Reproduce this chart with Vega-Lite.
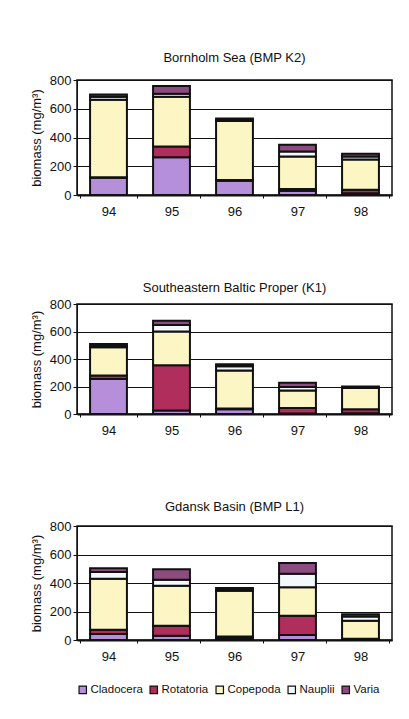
{
  "$schema": "https://vega.github.io/schema/vega-lite/v6.json",
  "background": "white",
  "padding": {"left": 29, "top": 51, "right": 10, "bottom": 10},
  "autosize": {"type": "pad"},
  "datasets": {
    "zoo": [
      {"panel": "K2", "year": "94", "taxon": "Cladocera", "ord": 1, "value": 120},
      {"panel": "K2", "year": "94", "taxon": "Rotatoria", "ord": 2, "value": 3},
      {"panel": "K2", "year": "94", "taxon": "Copepoda", "ord": 3, "value": 540},
      {"panel": "K2", "year": "94", "taxon": "Nauplii", "ord": 4, "value": 20},
      {"panel": "K2", "year": "94", "taxon": "Varia", "ord": 5, "value": 17},
      {"panel": "K2", "year": "95", "taxon": "Cladocera", "ord": 1, "value": 263},
      {"panel": "K2", "year": "95", "taxon": "Rotatoria", "ord": 2, "value": 75},
      {"panel": "K2", "year": "95", "taxon": "Copepoda", "ord": 3, "value": 345},
      {"panel": "K2", "year": "95", "taxon": "Nauplii", "ord": 4, "value": 21},
      {"panel": "K2", "year": "95", "taxon": "Varia", "ord": 5, "value": 54},
      {"panel": "K2", "year": "96", "taxon": "Cladocera", "ord": 1, "value": 100},
      {"panel": "K2", "year": "96", "taxon": "Rotatoria", "ord": 2, "value": 5},
      {"panel": "K2", "year": "96", "taxon": "Copepoda", "ord": 3, "value": 410},
      {"panel": "K2", "year": "96", "taxon": "Nauplii", "ord": 4, "value": 6},
      {"panel": "K2", "year": "96", "taxon": "Varia", "ord": 5, "value": 12},
      {"panel": "K2", "year": "97", "taxon": "Cladocera", "ord": 1, "value": 30},
      {"panel": "K2", "year": "97", "taxon": "Rotatoria", "ord": 2, "value": 12},
      {"panel": "K2", "year": "97", "taxon": "Copepoda", "ord": 3, "value": 225},
      {"panel": "K2", "year": "97", "taxon": "Nauplii", "ord": 4, "value": 35},
      {"panel": "K2", "year": "97", "taxon": "Varia", "ord": 5, "value": 48},
      {"panel": "K2", "year": "98", "taxon": "Cladocera", "ord": 1, "value": 12},
      {"panel": "K2", "year": "98", "taxon": "Rotatoria", "ord": 2, "value": 25},
      {"panel": "K2", "year": "98", "taxon": "Copepoda", "ord": 3, "value": 210},
      {"panel": "K2", "year": "98", "taxon": "Nauplii", "ord": 4, "value": 20},
      {"panel": "K2", "year": "98", "taxon": "Varia", "ord": 5, "value": 20},
      {"panel": "K1", "year": "94", "taxon": "Cladocera", "ord": 1, "value": 255},
      {"panel": "K1", "year": "94", "taxon": "Rotatoria", "ord": 2, "value": 25},
      {"panel": "K1", "year": "94", "taxon": "Copepoda", "ord": 3, "value": 205},
      {"panel": "K1", "year": "94", "taxon": "Nauplii", "ord": 4, "value": 10},
      {"panel": "K1", "year": "94", "taxon": "Varia", "ord": 5, "value": 15},
      {"panel": "K1", "year": "95", "taxon": "Cladocera", "ord": 1, "value": 25},
      {"panel": "K1", "year": "95", "taxon": "Rotatoria", "ord": 2, "value": 330},
      {"panel": "K1", "year": "95", "taxon": "Copepoda", "ord": 3, "value": 245},
      {"panel": "K1", "year": "95", "taxon": "Nauplii", "ord": 4, "value": 48},
      {"panel": "K1", "year": "95", "taxon": "Varia", "ord": 5, "value": 30},
      {"panel": "K1", "year": "96", "taxon": "Cladocera", "ord": 1, "value": 35},
      {"panel": "K1", "year": "96", "taxon": "Rotatoria", "ord": 2, "value": 5},
      {"panel": "K1", "year": "96", "taxon": "Copepoda", "ord": 3, "value": 277},
      {"panel": "K1", "year": "96", "taxon": "Nauplii", "ord": 4, "value": 30},
      {"panel": "K1", "year": "96", "taxon": "Varia", "ord": 5, "value": 15},
      {"panel": "K1", "year": "97", "taxon": "Cladocera", "ord": 1, "value": 3},
      {"panel": "K1", "year": "97", "taxon": "Rotatoria", "ord": 2, "value": 40},
      {"panel": "K1", "year": "97", "taxon": "Copepoda", "ord": 3, "value": 128},
      {"panel": "K1", "year": "97", "taxon": "Nauplii", "ord": 4, "value": 25},
      {"panel": "K1", "year": "97", "taxon": "Varia", "ord": 5, "value": 32},
      {"panel": "K1", "year": "98", "taxon": "Cladocera", "ord": 1, "value": 5},
      {"panel": "K1", "year": "98", "taxon": "Rotatoria", "ord": 2, "value": 30},
      {"panel": "K1", "year": "98", "taxon": "Copepoda", "ord": 3, "value": 155},
      {"panel": "K1", "year": "98", "taxon": "Nauplii", "ord": 4, "value": 5},
      {"panel": "K1", "year": "98", "taxon": "Varia", "ord": 5, "value": 5},
      {"panel": "L1", "year": "94", "taxon": "Cladocera", "ord": 1, "value": 42},
      {"panel": "L1", "year": "94", "taxon": "Rotatoria", "ord": 2, "value": 30},
      {"panel": "L1", "year": "94", "taxon": "Copepoda", "ord": 3, "value": 358},
      {"panel": "L1", "year": "94", "taxon": "Nauplii", "ord": 4, "value": 48},
      {"panel": "L1", "year": "94", "taxon": "Varia", "ord": 5, "value": 25},
      {"panel": "L1", "year": "95", "taxon": "Cladocera", "ord": 1, "value": 30},
      {"panel": "L1", "year": "95", "taxon": "Rotatoria", "ord": 2, "value": 70},
      {"panel": "L1", "year": "95", "taxon": "Copepoda", "ord": 3, "value": 280},
      {"panel": "L1", "year": "95", "taxon": "Nauplii", "ord": 4, "value": 42},
      {"panel": "L1", "year": "95", "taxon": "Varia", "ord": 5, "value": 75},
      {"panel": "L1", "year": "96", "taxon": "Cladocera", "ord": 1, "value": 10},
      {"panel": "L1", "year": "96", "taxon": "Rotatoria", "ord": 2, "value": 15},
      {"panel": "L1", "year": "96", "taxon": "Copepoda", "ord": 3, "value": 320},
      {"panel": "L1", "year": "96", "taxon": "Nauplii", "ord": 4, "value": 10},
      {"panel": "L1", "year": "96", "taxon": "Varia", "ord": 5, "value": 10},
      {"panel": "L1", "year": "97", "taxon": "Cladocera", "ord": 1, "value": 35},
      {"panel": "L1", "year": "97", "taxon": "Rotatoria", "ord": 2, "value": 135},
      {"panel": "L1", "year": "97", "taxon": "Copepoda", "ord": 3, "value": 200},
      {"panel": "L1", "year": "97", "taxon": "Nauplii", "ord": 4, "value": 95},
      {"panel": "L1", "year": "97", "taxon": "Varia", "ord": 5, "value": 75},
      {"panel": "L1", "year": "98", "taxon": "Cladocera", "ord": 1, "value": 3},
      {"panel": "L1", "year": "98", "taxon": "Rotatoria", "ord": 2, "value": 5},
      {"panel": "L1", "year": "98", "taxon": "Copepoda", "ord": 3, "value": 127},
      {"panel": "L1", "year": "98", "taxon": "Nauplii", "ord": 4, "value": 30},
      {"panel": "L1", "year": "98", "taxon": "Varia", "ord": 5, "value": 15}
    ]
  },
  "config": {
    "font": "Liberation Sans",
    "view": {"stroke": "#111", "strokeWidth": 1.5},
    "title": {"fontSize": 13, "fontWeight": "normal", "color": "#111", "offset": 10},
    "axis": {"labelFontSize": 13, "labelColor": "#111", "titleColor": "#111", "domainColor": "#111", "tickColor": "#111", "labelFont": "Liberation Sans"},
    "concat": {"spacing": 62},
    "legend": {"orient": "bottom", "direction": "horizontal", "title": null, "symbolType": "square", "symbolSize": 55, "symbolStrokeColor": "#111", "symbolStrokeWidth": 1.2, "labelFontSize": 11.5, "labelColor": "#111", "columnPadding": 4, "labelOffset": 2, "symbolOffset": 0, "offset": 20}
  },
  "vconcat": [
    {
      "title": {"text": "Bornholm Sea (BMP K2)", "offset": 9},
      "width": 315, "height": 115,
      "data": {"name": "zoo"},
      "transform": [{"filter": "datum.panel === 'K2'"}],
      "mark": {"type": "bar", "stroke": "#111", "strokeWidth": 2, "width": {"band": 0.65}},
      "encoding": {
        "x": {"field": "year", "type": "nominal", "title": null, "axis": {"labelAngle": 0, "labelPadding": 7, "domainWidth": 2, "tickBand": "extent", "tickSize": 3}},
        "y": {"field": "value", "type": "quantitative", "stack": "zero", "scale": {"domain": [0, 800], "nice": false}, "axis": {"values": [0, 200, 400, 600, 800], "title": "biomass (mg/m³)", "titleFontSize": 13, "titleFontWeight": "normal", "titlePadding": 6, "gridColor": "#111", "gridWidth": 1.2, "gridOpacity": 1, "tickSize": 4}},
        "color": {"field": "taxon", "type": "nominal", "scale": {"domain": ["Cladocera", "Rotatoria", "Copepoda", "Nauplii", "Varia"], "range": ["#b58fda", "#b02e5c", "#fbf6c4", "#f3f9fa", "#8c4c80"]}},
        "order": {"field": "ord", "type": "quantitative"}
      }
    },
    {
      "title": {"text": "Southeastern Baltic Proper (K1)", "offset": 3},
      "width": 315, "height": 110,
      "data": {"name": "zoo"},
      "transform": [{"filter": "datum.panel === 'K1'"}],
      "mark": {"type": "bar", "stroke": "#111", "strokeWidth": 2, "width": {"band": 0.65}},
      "encoding": {
        "x": {"field": "year", "type": "nominal", "title": null, "axis": {"labelAngle": 0, "labelPadding": 7, "domainWidth": 2, "tickBand": "extent", "tickSize": 3}},
        "y": {"field": "value", "type": "quantitative", "stack": "zero", "scale": {"domain": [0, 800], "nice": false}, "axis": {"values": [0, 200, 400, 600, 800], "title": "biomass (mg/m³)", "titleFontSize": 13, "titleFontWeight": "normal", "titlePadding": 6, "gridColor": "#111", "gridWidth": 1.2, "gridOpacity": 1, "tickSize": 4}},
        "color": {"field": "taxon", "type": "nominal", "scale": {"domain": ["Cladocera", "Rotatoria", "Copepoda", "Nauplii", "Varia"], "range": ["#b58fda", "#b02e5c", "#fbf6c4", "#f3f9fa", "#8c4c80"]}},
        "order": {"field": "ord", "type": "quantitative"}
      }
    },
    {
      "title": {"text": "Gdansk Basin (BMP L1)", "offset": 6},
      "width": 315, "height": 114,
      "data": {"name": "zoo"},
      "transform": [{"filter": "datum.panel === 'L1'"}],
      "mark": {"type": "bar", "stroke": "#111", "strokeWidth": 2, "width": {"band": 0.65}},
      "encoding": {
        "x": {"field": "year", "type": "nominal", "title": null, "axis": {"labelAngle": 0, "labelPadding": 7, "domainWidth": 2, "tickBand": "extent", "tickSize": 3}},
        "y": {"field": "value", "type": "quantitative", "stack": "zero", "scale": {"domain": [0, 800], "nice": false}, "axis": {"values": [0, 200, 400, 600, 800], "title": "biomass (mg/m³)", "titleFontSize": 13, "titleFontWeight": "normal", "titlePadding": 6, "gridColor": "#111", "gridWidth": 1.2, "gridOpacity": 1, "tickSize": 4}},
        "color": {"field": "taxon", "type": "nominal", "scale": {"domain": ["Cladocera", "Rotatoria", "Copepoda", "Nauplii", "Varia"], "range": ["#b58fda", "#b02e5c", "#fbf6c4", "#f3f9fa", "#8c4c80"]}, "legend": {"orient": "bottom"}},
        "order": {"field": "ord", "type": "quantitative"}
      }
    }
  ]
}
